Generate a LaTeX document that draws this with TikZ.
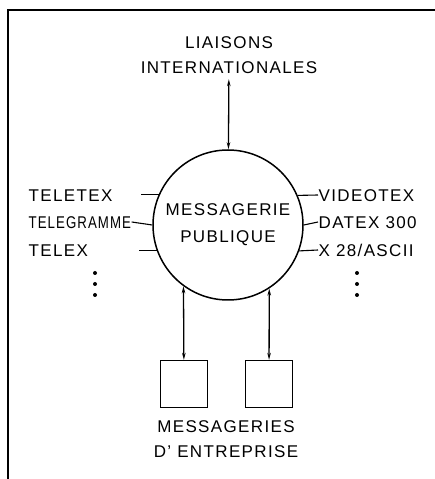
\documentclass[tikz,border=0pt]{standalone}
\usepackage{fontspec}
\setmainfont[LetterSpace=8]{Liberation Sans}
\usetikzlibrary{arrows.meta}

\begin{document}
\begin{tikzpicture}[x=1pt,y=1pt,line width=1.3pt,>={Stealth[length=7pt,width=3.5pt]},
  lbl/.style={font=\fontsize{17}{25}\selectfont,inner sep=0pt,text height=12.2pt,text depth=0pt},
  txt/.style={font=\fontsize{17}{25}\selectfont,align=center,inner sep=0pt},
  box/.style={draw,minimum size=47pt,inner sep=0pt},
  tick/.style={line width=1.1pt}]
\useasboundingbox (0,0) rectangle (435,479);
% frame
\draw[line width=1.8pt] (435,469) -- (8,469) -- (8,0);
% centre
\node[circle,draw,line width=1.5pt,minimum size=150pt,inner sep=0pt,txt] (C) at (228,254) {MESSAGERIE\\[2pt]PUBLIQUE};
\node[txt] (L) at (229,424) {LIAISONS\\INTERNATIONALES};
\node[box] (B1) at (184,95) {};
\node[box] (B2) at (269,95) {};
\node[txt] (E) at (226,40) {MESSAGERIES\\D' ENTREPRISE};
% services
\node[lbl,anchor=west] (teletex) at (28,284) {TELETEX};
\node[lbl,anchor=west] (telegramme) at (28,257) {\scalebox{0.78}[1]{TELEGRAMME}};
\node[lbl,anchor=west] (telex) at (28,229) {TELEX};
\node[lbl,anchor=west] (videotex) at (318,284) {VIDEOTEX};
\node[lbl,anchor=west] (datex) at (318,257) {DATEX 300};
\node[lbl,anchor=west] (x28) at (318,229) {X 28/ASCII};
\foreach \y in {206,195,184} {
  \fill (95,\y) circle (2pt);
  \fill (357,\y) circle (2pt);
}
\path[tick]
(C.156) edge ++(-18,0)
(C.180) edge (telegramme.east)
(C.200) edge ++(-18,0)
(C.23) edge (videotex.west)
(C.0) edge (datex.west)
(C.-20) edge (x28.west);
\draw[<->,shorten <=5pt] (L) -- (C);
\draw[<->] (C.234) -- (B1);
\draw[<->] (C.303) -- (B2);
\end{tikzpicture}
\end{document}
